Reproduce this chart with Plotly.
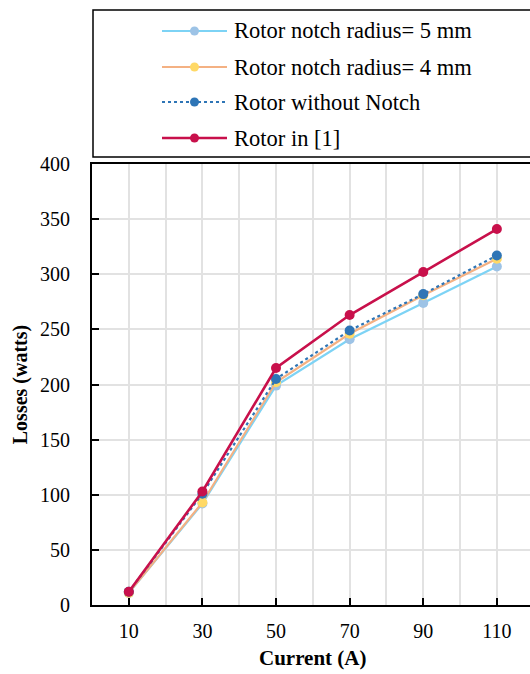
import plotly.graph_objects as go

current = [10, 30, 50, 70, 90, 110]
names = ["Rotor notch radius= 5 mm", "Rotor notch radius= 4 mm",
         "Rotor without Notch", "Rotor in [1]"]
loss_5mm = [11, 92, 199, 241, 274, 307]
loss_4mm = [11, 93, 202, 246, 281, 314]
loss_none = [12, 101, 205, 249, 282, 317]
loss_ref = [12, 103, 215, 263, 302, 341]
y_ticks = [0, 50, 100, 150, 200, 250, 300, 350, 400]
x_title = "Current (A)"
y_title = "Losses (watts)"

line_colors = ["#7DD3F5", "#F4B183", "#2E75B6", "#C8104B"]
marker_colors = ["#9DC3E6", "#FFD966", "#2E75B6", "#C8104B"]
dashes = ["solid", "solid", "dot", "solid"]
widths = [2.2, 2.2, 2.2, 2.6]
series = [loss_5mm, loss_4mm, loss_none, loss_ref]

W, H = 530, 674
L, R, T, B = 92, 0, 164, 69
pw, ph = W - L - R, H - T - B

def px(x):
    return (x - L) / pw

def py(y):
    return (H - B - y) / ph

FONT = "Liberation Serif"
GRID = "#E2E2E2"

fig = go.Figure()
for name, ys, lc, mc, d, w in zip(names, series, line_colors, marker_colors, dashes, widths):
    fig.add_trace(go.Scatter(
        x=current, y=ys, name=name, mode="lines+markers",
        line=dict(color=lc, width=w, dash=d),
        marker=dict(color=mc, size=10, line=dict(width=0)),
        showlegend=False, cliponaxis=False,
    ))

shapes = []
annotations = []
# legend box
shapes.append(dict(type="rect", xref="paper", yref="paper",
                   x0=px(93), x1=px(540), y0=py(157), y1=py(10),
                   line=dict(color="black", width=1.5), fillcolor="white", layer="above"))
rows = [31, 67, 102, 138]
for name, lc, mc, d, w, ry in zip(names, line_colors, marker_colors, dashes, widths, rows):
    shapes.append(dict(type="line", xref="paper", yref="paper",
                       x0=px(162), x1=px(227), y0=py(ry), y1=py(ry),
                       line=dict(color=lc, width=w, dash=d), layer="above"))
    shapes.append(dict(type="circle", xref="paper", yref="paper",
                       x0=px(190), x1=px(199), y0=py(ry + 4.5), y1=py(ry - 4.5),
                       line=dict(width=0), fillcolor=mc, layer="above"))
    annotations.append(dict(text=name, xref="paper", yref="paper",
                            x=px(232), y=py(ry), xanchor="left", yanchor="middle",
                            showarrow=False, font=dict(family=FONT, size=22.5, color="black")))

annotations.append(dict(text="<b>" + x_title + "</b>", xref="paper", yref="paper",
                        x=px(313), y=py(658), xanchor="center", yanchor="middle",
                        showarrow=False, font=dict(family=FONT, size=21, color="black")))

fig.update_layout(
    width=W, height=H,
    margin=dict(l=L, r=R, t=T, b=B, autoexpand=False),
    plot_bgcolor="white", paper_bgcolor="white",
    font=dict(family=FONT, size=20, color="black"),
    shapes=shapes, annotations=annotations,
    xaxis=dict(
        range=[0, 119], tickmode="array", tickvals=current,
        ticks="inside", ticklen=7, tickwidth=2, tickcolor="black",
        showline=True, linecolor="black", linewidth=2, mirror=True,
        showgrid=True, gridcolor=GRID, gridwidth=1.5,
        minor=dict(tickmode="array", tickvals=[20, 40, 60, 80, 100],
                   showgrid=True, gridcolor=GRID, gridwidth=1.5, ticks=""),
        zeroline=False, ticklabelstandoff=7,
        tickfont=dict(family=FONT, size=20),
    ),
    yaxis=dict(
        range=[0, 400], tickmode="array", tickvals=y_ticks,
        ticks="inside", ticklen=7, tickwidth=2, tickcolor="black",
        showline=True, linecolor="black", linewidth=2, mirror=False,
        showgrid=True, gridcolor=GRID, gridwidth=1.5,
        zeroline=False, ticklabelstandoff=16,
        tickfont=dict(family=FONT, size=20),
        title=dict(text="<b>" + y_title + "</b>", standoff=7,
                   font=dict(family=FONT, size=20)),
    ),
)

fig.write_html("out.html", config={"displayModeBar": False},
               post_script="document.body.style.margin='0px';")
